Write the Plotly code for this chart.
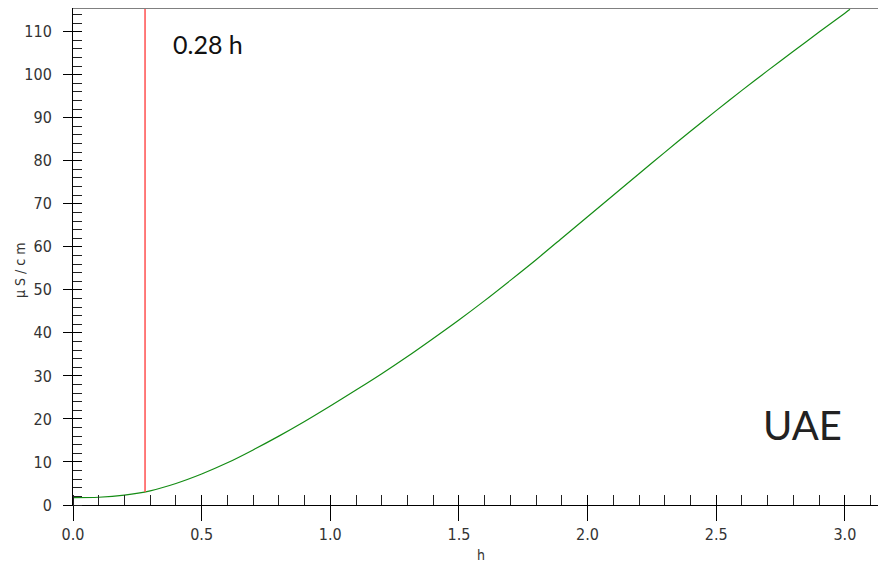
import plotly.graph_objects as go

# Conductivity curve (µS/cm) vs time (h)
time_h = [0.0, 0.1, 0.2, 0.3, 0.4, 0.5, 0.6, 0.7, 0.8, 0.9, 1.0, 1.1, 1.2, 1.3, 1.4,
          1.5, 1.6, 1.7, 1.8, 1.9, 2.0, 2.1, 2.2, 2.3, 2.4, 2.5, 2.6, 2.7, 2.8, 2.9,
          3.0, 3.02]
conductivity = [1.7, 1.8, 2.3, 3.3, 5.0, 7.2, 9.8, 12.8, 16.0, 19.4, 23.0, 26.7, 30.5,
                34.5, 38.7, 43.0, 47.5, 52.2, 57.0, 62.0, 67.0, 72.0, 77.0, 81.95, 86.85,
                91.65, 96.35, 100.95, 105.45, 109.9, 114.3, 115.2]

marker_time = [0.28, 0.28]
marker_level = [3.0, 115.5]

x_ticks = [0.0, 0.5, 1.0, 1.5, 2.0, 2.5, 3.0]
x_tick_labels = ["0.0", "0.5", "1.0", "1.5", "2.0", "2.5", "3.0"]
y_ticks = [0, 10, 20, 30, 40, 50, 60, 70, 80, 90, 100, 110]

X_RANGE = [0, 3.16]
Y_RANGE = [0, 115.5]
NARROW = "Liberation Sans Narrow, Arial Narrow, DejaVu Sans Condensed, Liberation Sans, Arial"
TICK_FONT = dict(family=NARROW, size=16, color="#333333")

# page body adds an 8px offset; layout is expressed in reference pixels minus that offset
OFF = 8
L, T, PW, PH = 73 - OFF, 7 - OFF + 1, 813, 497
W, H = 886 - OFF, 567 - OFF

fig = go.Figure()
fig.add_trace(go.Scatter(x=time_h, y=conductivity, mode="lines",
                         line=dict(color="rgb(20,140,20)", width=1.2, shape="spline", smoothing=0.8),
                         showlegend=False, hoverinfo="skip"))
fig.add_trace(go.Scatter(x=marker_time, y=marker_level, mode="lines",
                         line=dict(color="rgb(255,80,80)", width=1.5),
                         showlegend=False, hoverinfo="skip"))
# empty trace to activate the overlay axes (inner halves of major ticks)
fig.add_trace(go.Scatter(x=[], y=[], xaxis="x2", yaxis="y2", showlegend=False))


def px(xp):
    return (xp - 73) / PW


def py(yp):
    return (505 - yp) / PH


fig.update_layout(
    width=W, height=H,
    margin=dict(l=L, r=W - L - PW, t=T, b=H - T - PH, autoexpand=False),
    paper_bgcolor="white", plot_bgcolor="white",
    xaxis=dict(range=X_RANGE, tickvals=x_ticks, ticktext=x_tick_labels,
               showgrid=False, zeroline=False, showline=True, linecolor="black", linewidth=1,
               ticks="outside", ticklen=15, tickcolor="black", tickwidth=1,
               tickfont=TICK_FONT,
               minor=dict(dtick=0.1, ticks="inside", ticklen=10, tickcolor="#222222", tickwidth=1,
                          showgrid=False)),
    yaxis=dict(range=Y_RANGE, tickvals=y_ticks,
               showgrid=False, zeroline=False, showline=True, linecolor="black", linewidth=1,
               ticks="outside", ticklen=9, tickcolor="black", tickwidth=1,
               tickfont=TICK_FONT, ticklabelstandoff=8,
               minor=dict(dtick=2, ticks="inside", ticklen=9, tickcolor="#222222", tickwidth=1,
                          showgrid=False)),
    xaxis2=dict(range=X_RANGE, overlaying="x", anchor="y2", side="bottom",
                tickvals=x_ticks, showticklabels=False, showgrid=False, zeroline=False,
                showline=False, ticks="inside", ticklen=10, tickcolor="black", tickwidth=1),
    yaxis2=dict(range=Y_RANGE, overlaying="y", anchor="x2", side="left",
                tickvals=y_ticks, showticklabels=False, showgrid=False, zeroline=False,
                showline=False, ticks="inside", ticklen=9, tickcolor="black", tickwidth=1),
    shapes=[dict(type="line", xref="paper", yref="paper", x0=0, x1=1, y0=1, y1=1,
                 line=dict(color="#808080", width=2))],
    annotations=[
        dict(text="0.28 h", xref="paper", yref="paper", x=px(171), y=py(44),
             xanchor="left", yanchor="middle", showarrow=False,
             font=dict(family="Lato, Open Sans, sans-serif", size=25, color="#111111")),
        dict(text="UAE", xref="paper", yref="paper", x=px(802), y=py(425),
             xanchor="center", yanchor="middle", showarrow=False,
             font=dict(family="Lato, Open Sans, sans-serif", size=40, color="#222222")),
        dict(text="h", xref="paper", yref="paper", x=px(481), y=py(555),
             xanchor="center", yanchor="middle", showarrow=False,
             font=dict(family=NARROW, size=14, color="#333333")),
        dict(text="µ S / c m", xref="paper", yref="paper", x=px(20), y=py(270),
             xanchor="center", yanchor="middle", showarrow=False, textangle=-90,
             font=dict(family=NARROW, size=14, color="#333333")),
    ],
)

fig.write_html("out.html")
